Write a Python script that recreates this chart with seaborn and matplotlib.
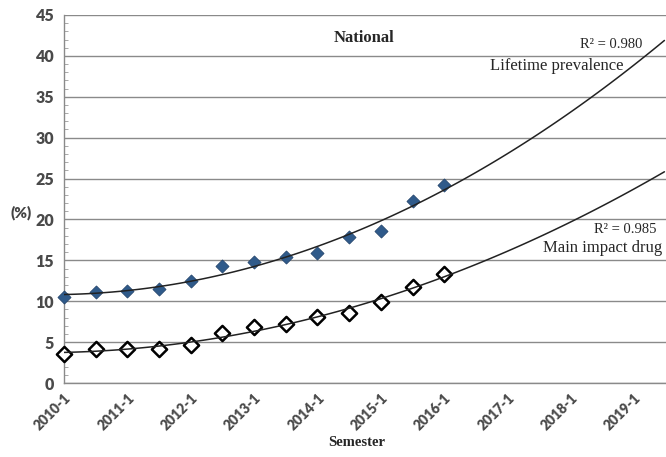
import numpy as np
import pandas as pd
import matplotlib
matplotlib.use("Agg")
import matplotlib.pyplot as plt
import seaborn as sns

# semesters 2010-1 .. 2019-2 (data only up to 2016-1)
semesters = [f"{y}-{s}" for y in range(2010, 2020) for s in (1, 2)]
lifetime = [10.5, 11.1, 11.3, 11.5, 12.5, 14.3, 14.8, 15.4, 15.9, 17.9, 18.6, 22.2, 24.2]
main_drug = [3.6, 4.2, 4.1, 4.1, 4.7, 6.1, 6.9, 7.2, 8.1, 8.6, 9.9, 11.7, 13.3]

df = pd.DataFrame({"idx": np.arange(len(lifetime)),
                   "lifetime": lifetime, "main": main_drug})

sns.set_style("white")
plt.rcParams["font.family"] = ["Lato", "DejaVu Sans"]

fig = plt.figure(figsize=(6.66, 4.57), dpi=100)
ax = fig.add_axes([64 / 666, 74 / 457, 1 - 64 / 666, 368 / 457])
ax.set_xlim(0, 18.95)
ax.set_ylim(0, 45)

# gridlines
ax.set_yticks(range(0, 46, 5))
ax.yaxis.grid(True, color="#8a8a8a", linewidth=1.0)
ax.set_axisbelow(True)

# markers
sns.scatterplot(data=df, x="idx", y="lifetime", ax=ax, marker="D", s=45,
                color="#2f5a8a", edgecolor="#1f3f66", linewidth=0.5,
                zorder=3, clip_on=False)
sns.scatterplot(data=df, x="idx", y="main", ax=ax, marker="D", s=60,
                facecolor="white", edgecolor="black", linewidth=1.8,
                zorder=3, clip_on=False)

# quadratic trend lines (Excel-style polynomial order 2)
for col in ["lifetime", "main"]:
    sns.regplot(data=df, x="idx", y=col, ax=ax, order=2, ci=None,
                scatter=False, truncate=False,
                line_kws={"color": "#222222", "linewidth": 1.1, "zorder": 4})

ax.set_xlim(0, 18.95)
ax.set_ylim(0, 45)

# axes styling
for s in ["top", "right"]:
    ax.spines[s].set_visible(False)
for s in ["left", "bottom"]:
    ax.spines[s].set_color("#8a8a8a")
    ax.spines[s].set_linewidth(1.0)

ax.set_xticks(range(len(semesters)))
ax.set_xticklabels([lab if lab.endswith("-1") else "" for lab in semesters],
                   rotation=45, ha="right", rotation_mode="anchor",
                   fontsize=10, fontweight="heavy", color="#4a4a4a")
ax.tick_params(axis="x", direction="in", length=5, color="#8a8a8a", pad=6)
ax.set_yticks(range(0, 46, 5))
ax.set_yticklabels([str(v) for v in range(0, 46, 5)], fontsize=11.5,
                   fontweight="heavy", color="#4a4a4a")
ax.tick_params(axis="y", which="major", direction="inout", length=8,
               color="#8a8a8a", pad=3)
ax.set_yticks(np.arange(0, 46, 1), minor=True)
ax.tick_params(axis="y", which="minor", direction="in", length=3,
               color="#9a9a9a", left=True)

ax.set_xlabel("")
ax.set_ylabel("")
serif = ["Liberation Serif", "DejaVu Serif"]
fig.text(21 / 666, 1 - 213 / 457, "(%)", fontsize=11, fontweight="heavy",
         color="#444444", ha="center", va="center")
fig.text(357 / 666, 1 - 443 / 457, "Semester", family=serif, fontsize=10.5,
         fontweight="bold", ha="center", va="center")
fig.text(364 / 666, 1 - 38 / 457, "National", family=serif, fontsize=12,
         fontweight="bold", ha="center", va="center")
fig.text(642 / 666, 1 - 44 / 457, "R² = 0.980", family=serif, fontsize=10.5,
         ha="right", va="center")
fig.text(623 / 666, 1 - 66 / 457, "Lifetime prevalence", family=serif,
         fontsize=12, ha="right", va="center")
fig.text(657 / 666, 1 - 230 / 457, "R² = 0.985", family=serif, fontsize=10.5,
         ha="right", va="center")
fig.text(662 / 666, 1 - 248 / 457, "Main impact drug", family=serif,
         fontsize=12, ha="right", va="center")

fig.savefig("out.png", dpi=100)
